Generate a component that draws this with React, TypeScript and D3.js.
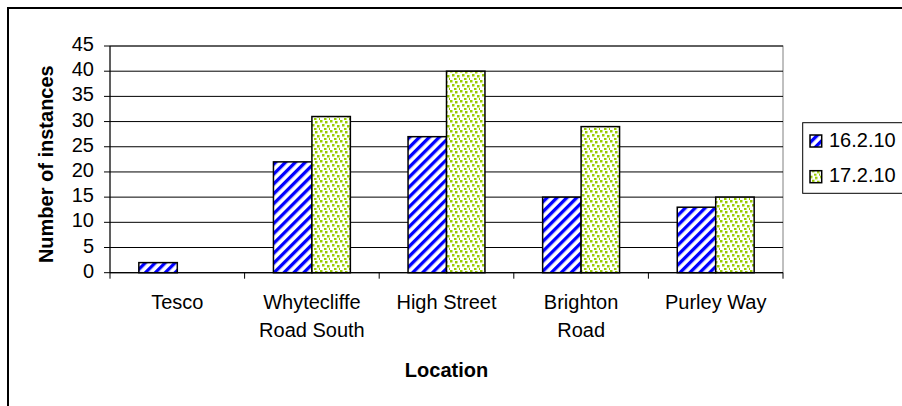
import React from "react";
import * as d3 from "d3";

// Survey counts per location on two dates
const categories = ["Tesco", "Whytecliffe Road South", "High Street", "Brighton Road", "Purley Way"];
const categoryLines = [["Tesco"], ["Whytecliffe", "Road South"], ["High Street"], ["Brighton", "Road"], ["Purley Way"]];
const seriesNames = ["16.2.10", "17.2.10"];
const values16 = [2, 22, 27, 15, 13];
const values17 = [0, 31, 40, 29, 15];
const yTicks = [0, 5, 10, 15, 20, 25, 30, 35, 40, 45];

const W = 902;
const H = 406;
const FONT = "'Liberation Sans', Arial, sans-serif";

// confetti dot offsets inside one 10x10 pattern tile
const confetti: [number, number][] = [
  [0, 0], [5, 1], [2, 4], [7, 5], [4, 8], [9, 8],
];

export default function App() {
  const plot = { left: 110, right: 783, top: 46, bottom: 272.7 };
  const x = d3.scaleBand<string>().domain(categories).range([plot.left, plot.right]).padding(0);
  const y = d3.scaleLinear().domain([0, 45]).range([plot.bottom, plot.top]);
  const groupW = x.bandwidth() * (2 / 3.5);
  const xs = d3.scaleBand<string>().domain(seriesNames).range([0, groupW]).padding(0);
  const fills = ["url(#stripes)", "url(#confetti)"];
  const seriesValues = [values16, values17];

  return (
    <svg width={W} height={H} style={{ position: "absolute", left: 0, top: 0, background: "#fff" }}>
      <defs>
        <pattern id="stripes" width="7" height="7" patternUnits="userSpaceOnUse" patternTransform="rotate(45)">
          <rect width="7" height="7" fill="#fff" />
          <rect width="3.3" height="7" fill="#0000ff" />
        </pattern>
        <pattern id="confetti" width="10" height="10" patternUnits="userSpaceOnUse">
          <rect width="10" height="10" fill="#fff" />
          {confetti.map(([cx, cy], i) => (
            <rect key={i} x={cx} y={cy} width="2.5" height="2.5" fill="#99cc00" />
          ))}
        </pattern>
      </defs>

      {/* chart frame */}
      <path d={`M8,${H + 2}V8H${W + 2}`} fill="none" stroke="#000" strokeWidth={2} />

      {/* plot border and gridlines */}
      <rect x={plot.left} y={plot.top} width={plot.right - plot.left} height={plot.bottom - plot.top} fill="none" stroke="#808080" strokeWidth={1} />
      {yTicks.map((t) => (
        <g key={t}>
          <line x1={plot.left - 6} x2={plot.right} y1={y(t)} y2={y(t)} stroke="#000" strokeWidth={1} />
          <text x={94} y={y(t) + 5} textAnchor="end" fontFamily={FONT} fontSize={20} fill="#000">{t}</text>
        </g>
      ))}

      {/* bars */}
      {categories.map((c, ci) => {
        const gx = x(c)! + (x.bandwidth() - groupW) / 2;
        return seriesNames.map((s, si) => {
          const v = seriesValues[si][ci];
          if (v <= 0) return null;
          return (
            <rect key={c + s} x={gx + xs(s)!} y={y(v)} width={xs.bandwidth()} height={y(0) - y(v)}
              fill={fills[si]} stroke="#000" strokeWidth={1.5} />
          );
        });
      })}

      {/* axes */}
      <line x1={plot.left} x2={plot.left} y1={plot.top} y2={plot.bottom} stroke="#000" strokeWidth={1} />
      <line x1={plot.left} x2={plot.right} y1={plot.bottom} y2={plot.bottom} stroke="#000" strokeWidth={1} />
      {[...categories.map((c) => x(c)!), plot.right].map((tx, i) => (
        <line key={i} x1={tx} x2={tx} y1={plot.bottom} y2={plot.bottom + 6} stroke="#000" strokeWidth={1} />
      ))}

      {/* category labels */}
      {categories.map((c, ci) => (
        <text key={c} textAnchor="middle" fontFamily={FONT} fontSize={20} fill="#000">
          {categoryLines[ci].map((ln, li) => (
            <tspan key={li} x={x(c)! + x.bandwidth() / 2} y={309 + li * 27.7}>{ln}</tspan>
          ))}
        </text>
      ))}

      {/* axis titles */}
      <text x={(plot.left + plot.right) / 2} y={377.3} textAnchor="middle" fontFamily={FONT} fontSize={20} fontWeight="bold">Location</text>
      <text transform={`translate(53,164.2) rotate(-90)`} textAnchor="middle" fontFamily={FONT} fontSize={20} fontWeight="bold">Number of instances</text>

      {/* legend */}
      <rect x={802.7} y={122.7} width={110} height={70.6} fill="#fff" stroke="#000" strokeWidth={1} />
      {seriesNames.map((s, si) => (
        <g key={s} transform={`translate(0,${si * 35.7})`}>
          <rect x={810} y={135} width={11.7} height={12} fill={fills[si]} stroke="#000" strokeWidth={1.5} />
          <text x={829} y={146.7} fontFamily={FONT} fontSize={20} fill="#000">{s}</text>
        </g>
      ))}
    </svg>
  );
}
